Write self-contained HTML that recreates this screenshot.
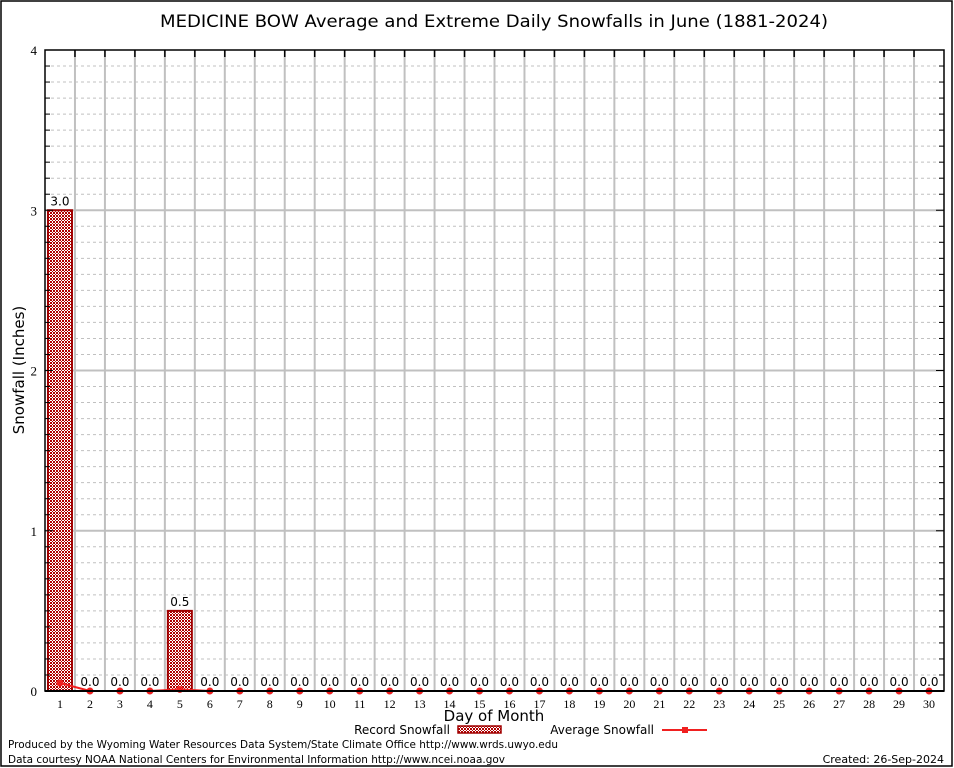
<!DOCTYPE html>
<html><head><meta charset="utf-8"><style>
body{margin:0;background:#fff;}
svg{display:block;font-family:"DejaVu Sans","Liberation Sans",sans-serif;}
</style></head><body>
<svg id="chart" width="954" height="768" viewBox="0 0 954 768">
<defs>
<pattern id="hatch" width="3" height="3" patternUnits="userSpaceOnUse">
<rect width="3" height="3" fill="#fff"/>
<rect x="0" y="0" width="1" height="1" fill="#b00000"/><rect x="2" y="0" width="1" height="1" fill="#b00000"/>
<rect x="1" y="1" width="1" height="1" fill="#b00000"/>
<rect x="0" y="2" width="1" height="1" fill="#b00000"/><rect x="2" y="2" width="1" height="1" fill="#b00000"/>
</pattern>
</defs>
<rect x="1" y="1" width="951" height="765" fill="none" stroke="#000" stroke-width="1.5"/>
<text x="494" y="27" font-size="17" text-anchor="middle" textLength="668" lengthAdjust="spacingAndGlyphs">MEDICINE BOW Average and Extreme Daily Snowfalls in June (1881-2024)</text>
<g id="grid"></g>
<g id="bars"></g>
<g id="avg"></g>
<g id="axes"></g>
<text x="24" y="370" font-size="15" text-anchor="middle" transform="rotate(-90 24 370)">Snowfall (Inches)</text>
<text x="494" y="721" font-size="15" text-anchor="middle">Day of Month</text>
<g>
<text x="450" y="734" font-size="12" text-anchor="end">Record Snowfall</text>
<rect x="458" y="726" width="43" height="7" fill="url(#hatch)" stroke="#a00000" stroke-width="1.5"/>
<text x="654" y="734" font-size="12" text-anchor="end">Average Snowfall</text>
<line x1="662" y1="730" x2="707" y2="730" stroke="#f02020" stroke-width="2"/>
<rect x="682" y="727" width="6" height="6" fill="#f02020"/>
</g>
<text x="8" y="748" font-size="11" textLength="550" lengthAdjust="spacingAndGlyphs">Produced by the Wyoming Water Resources Data System/State Climate Office http://www.wrds.uwyo.edu</text>
<text x="8" y="763" font-size="11" textLength="497" lengthAdjust="spacingAndGlyphs">Data courtesy NOAA National Centers for Environmental Information http://www.ncei.noaa.gov</text>
<text x="944" y="763" font-size="11" text-anchor="end">Created: 26-Sep-2024</text>
</svg>
<script>
const days=[1,2,3,4,5,6,7,8,9,10,11,12,13,14,15,16,17,18,19,20,21,22,23,24,25,26,27,28,29,30];
const recordSnow=[3.0,0,0,0,0.5,0,0,0,0,0,0,0,0,0,0,0,0,0,0,0,0,0,0,0,0,0,0,0,0,0];
const avgSnow=[0.05,0,0,0,0.01,0,0,0,0,0,0,0,0,0,0,0,0,0,0,0,0,0,0,0,0,0,0,0,0,0];
const yTicks=[0,1,2,3,4];
const NS="http://www.w3.org/2000/svg";
const L=45,R=944,T=50,B=691,yMax=4;
const cw=(R-L)/days.length;
function xs(d){return L+cw*(d-0.5);}
function ys(v){return B-(B-T)*v/yMax;}
function mk(tag,attrs,parent){const e=document.createElementNS(NS,tag);for(const k in attrs)e.setAttribute(k,attrs[k]);parent.appendChild(e);return e;}
const grid=document.getElementById('grid'),bars=document.getElementById('bars'),avg=document.getElementById('avg'),axes=document.getElementById('axes');
for(let i=1;i<yMax*10;i++){if(i%10===0)continue;const y=ys(i/10);
const g=mk('line',{x1:L,x2:R,y1:y,y2:y,stroke:'#c0c0c0','stroke-dasharray':'3,3','stroke-width':1},grid);


const t1=mk('line',{x1:L,x2:L+5,y1:y,y2:y,stroke:'#000'},axes);


const t2=mk('line',{x1:R-5,x2:R,y1:y,y2:y,stroke:'#000'},axes);

}
yTicks.forEach(v=>{const y=ys(v);
if(v>0&&v<yMax){const g=mk('line',{x1:L,x2:R,y1:y,y2:y,stroke:'#c0c0c0','stroke-width':2},grid);

}
const t=mk('line',{x1:L,x2:L+8,y1:y,y2:y,stroke:'#000'},axes);


const t2=mk('line',{x1:R-8,x2:R,y1:y,y2:y,stroke:'#000'},axes);


const lb=mk('text',{x:L-8,y:y+5,'font-size':13,'text-anchor':'end','font-family':'"Liberation Serif",serif'},axes);lb.textContent=v;

});
for(let i=1;i<days.length;i++){const x=L+cw*i;
const g=mk('line',{x1:x,x2:x,y1:T,y2:B,stroke:'#c0c0c0','stroke-width':2},grid);


const t=mk('line',{x1:x,x2:x,y1:T,y2:T+7,stroke:'#000','stroke-width':1.5},axes);

}
days.forEach((d,i)=>{const x=xs(d),v=recordSnow[i];
if(v>0){const b=mk('rect',{x:x-12,y:ys(v),width:24,height:B-ys(v),fill:'url(#hatch)',stroke:'#a00000','stroke-width':2},bars);

}
const lb=mk('text',{x:x,y:ys(v)-5,'font-size':12,'text-anchor':'middle'},bars);lb.textContent=v.toFixed(1);


const xl=mk('text',{x:x,y:B+17,'font-size':12,'text-anchor':'middle','font-family':'"Liberation Serif",serif'},axes);xl.textContent=d;

});
const pts=days.map((d,i)=>xs(d)+','+ys(avgSnow[i])).join(' ');
const pl=mk('polyline',{points:pts,fill:'none',stroke:'#f02020','stroke-width':2},avg);


days.forEach((d,i)=>{const m=mk('circle',{cx:xs(d),cy:ys(avgSnow[i]),r:3.5,fill:'#f02020'},avg);

});
const fr=mk('rect',{x:L,y:T,width:R-L,height:B-T,fill:'none',stroke:'#000','stroke-width':1.5},axes);


const xa=mk('line',{x1:L,x2:R,y1:B,y2:B,stroke:'#000','stroke-width':2},axes);


</script>
</body></html>
